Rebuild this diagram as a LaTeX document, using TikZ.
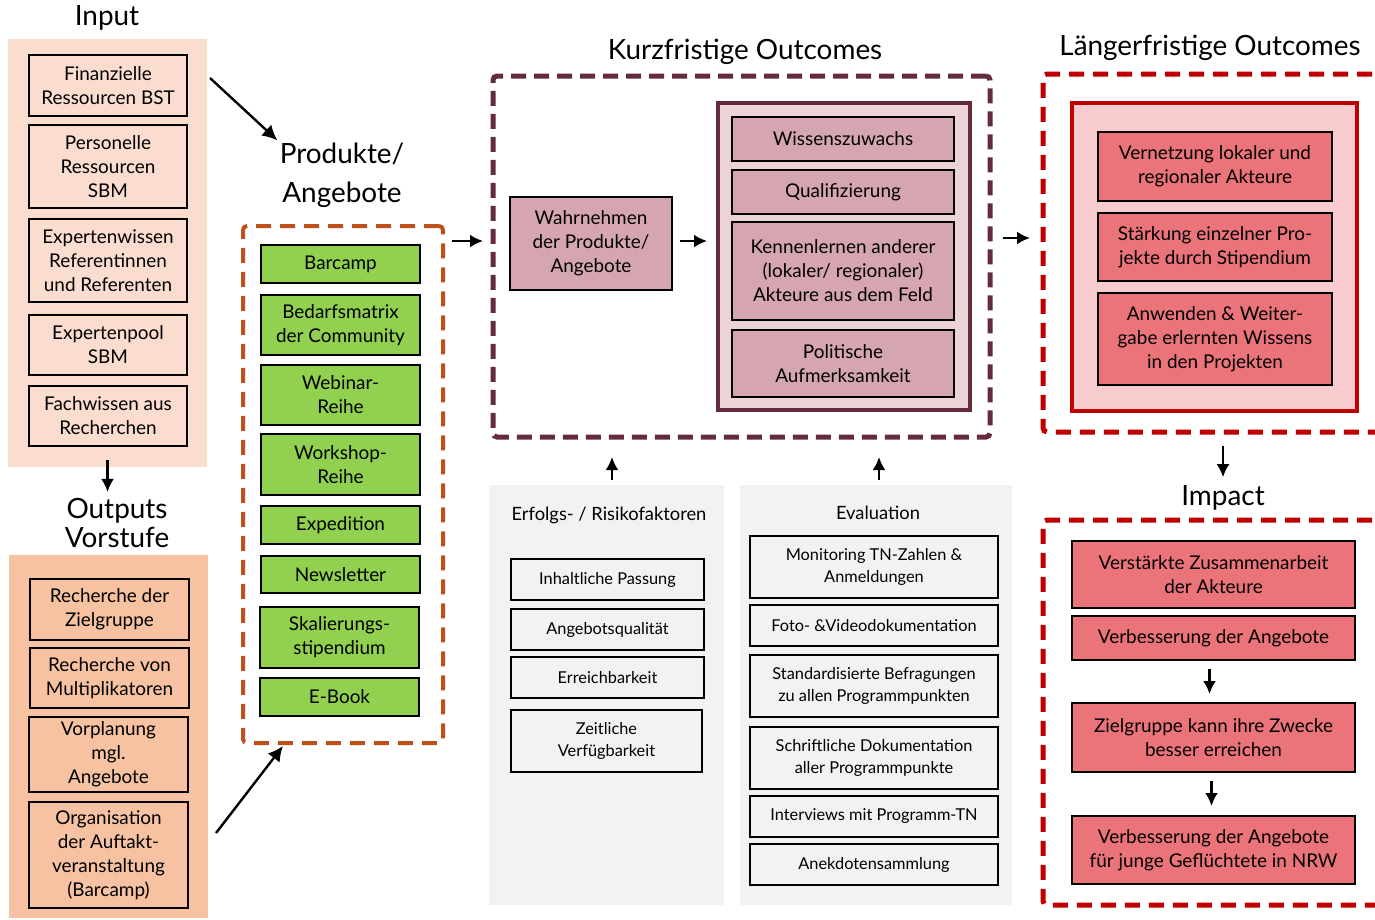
\documentclass[tikz,border=0pt]{standalone}
\usepackage{fontspec}
\setmainfont{Lato}
\usepackage{xcolor}
\usetikzlibrary{arrows.meta, positioning, calc}

\definecolor{inputbg}{HTML}{FADDCF}
\definecolor{outputbg}{HTML}{F6C2A2}
\definecolor{prodline}{HTML}{C0501A}
\definecolor{prodgreen}{HTML}{92D050}
\definecolor{kurzline}{HTML}{632B3C}
\definecolor{kurzfill}{HTML}{D5A6AF}
\definecolor{kurzlight}{HTML}{EBD3D8}
\definecolor{langline}{HTML}{C00000}
\definecolor{langlight}{HTML}{F8CBCE}
\definecolor{langfill}{HTML}{EB737A}
\definecolor{panelgray}{HTML}{F2F2F2}

\begin{document}
\begin{tikzpicture}[
  x=0.5bp, y=-0.5bp,
  box/.style={
    rectangle,
    draw,
    line width=1bp,
    align=center,
    inner sep=2bp,
    font=\fontsize{9.5}{12}\selectfont
  },
  smallbox/.style={
    box,
    line width=0.9bp,
    font=\fontsize{8.2}{11}\selectfont
  },
  title/.style={
    align=center,
    inner sep=1bp,
    font=\fontsize{14}{19.5}\selectfont
  },
  panel/.style={
    rectangle,
    inner sep=0pt
  },
  dashbox/.style={
    rectangle,
    rounded corners=2bp,
    line width=2.5bp,
    dash pattern=on 7.5bp off 4bp,
    inner sep=0pt
  },
  arrow/.style={
    -{Latex[length=6.5bp, width=6.5bp]},
    line width=1.2bp
  },
  bigarrow/.style={
    -{Latex[length=7.5bp, width=7.5bp]},
    line width=1.2bp
  }
]
\useasboundingbox (0,0) rectangle (1375,919);
\clip (0,0) rectangle (1375,919);

% =========================================================
% Input and outputs (left column)
% =========================================================
\node[title] (intitle) at (107,18) {Input};
\node[panel, fill=inputbg, minimum width=99.5bp, minimum height=214bp] (inbg) at (107.5,253) {};

\node[box, minimum width=79bp, minimum height=30.5bp] (in1) at (108,85.5) {Finanzielle\\Ressourcen BST};
\node[box, minimum width=79bp, minimum height=41.5bp] (in2) at (108,166.5) {Personelle\\Ressourcen\\SBM};
\node[box, minimum width=79bp, minimum height=41.5bp] (in3) at (108,260.5) {Expertenwissen\\Referentinnen\\und Referenten};
\node[box, minimum width=79bp, minimum height=30bp] (in4) at (108,345) {Expertenpool\\SBM};
\node[box, minimum width=79bp, minimum height=30bp] (in5) at (108,416) {Fachwissen aus\\Recherchen};

\node[title, font=\fontsize{14}{14.5}\selectfont] (outtitle) at (117,523) {Outputs\\Vorstufe};
\node[panel, fill=outputbg, minimum width=99.5bp, minimum height=181.5bp] (outbg) at (108.5,736.5) {};

\node[box, minimum width=79.5bp, minimum height=30.5bp] (out1) at (109.5,609.5) {Recherche der\\Zielgruppe};
\node[box, minimum width=79.5bp, minimum height=30bp] (out2) at (109.5,678) {Recherche von\\Multiplikatoren};
\node[box, minimum width=79.5bp, minimum height=37.5bp] (out3) at (108.5,754.5) {Vorplanung\\mgl.\\Angebote};
\node[box, minimum width=79.5bp, minimum height=53bp] (out4) at (108.5,855) {Organisation\\der Auftakt-\\veranstaltung\\(Barcamp)};

\draw[arrow, shorten <=-3.5bp, shorten >=2bp] (inbg.south) -- (inbg.south |- outtitle.north);

% =========================================================
% Produkte / Angebote
% =========================================================
\node[title] (prodtitle) at (342,175) {Produkte/\\Angebote};
\node[dashbox, draw=prodline, line width=2bp, dash pattern=on 7.5bp off 4.5bp, minimum width=100bp, minimum height=258.5bp] (prodbox) at (343,484.5) {};

\node[box, fill=prodgreen, minimum width=79.5bp, minimum height=19bp] (barcamp) at (340.5,264) {Barcamp};
\node[box, fill=prodgreen, minimum width=79.5bp, minimum height=30bp] (matrix) at (340.5,325) {Bedarfsmatrix\\der Community};
\node[box, fill=prodgreen, minimum width=79.5bp, minimum height=30bp] (webinar) at (340.5,395) {Webinar-\\Reihe};
\node[box, fill=prodgreen, minimum width=79.5bp, minimum height=30.5bp] (workshop) at (340.5,464.5) {Workshop-\\Reihe};
\node[box, fill=prodgreen, minimum width=79.5bp, minimum height=19bp] (expedition) at (340.5,525) {Expedition};
\node[box, fill=prodgreen, minimum width=79.5bp, minimum height=18.5bp] (newsletter) at (340.5,574.5) {Newsletter};
\node[box, fill=prodgreen, minimum width=79.5bp, minimum height=30.5bp] (stipendium) at (339.5,637.5) {Skalierungs-\\stipendium};
\node[box, fill=prodgreen, minimum width=79.5bp, minimum height=19bp] (ebook) at (339.5,697) {E-Book};

\coordinate (inarr) at (210,78);
\coordinate (outarr) at (216,833);
\coordinate (prodin) at (283,746);
\draw[bigarrow] (inarr) -- (prodtitle.north west);
\draw[bigarrow] (outarr) -- (prodin);

% =========================================================
% Kurzfristige Outcomes
% =========================================================
\node[title] (kurztitle) at (745,52) {Kurzfristige Outcomes};
\node[dashbox, draw=kurzline, minimum width=248.5bp, minimum height=180.5bp] (kurzbox) at (741.5,256.5) {};

\node[box, fill=kurzfill, minimum width=81bp, minimum height=46.5bp] (wahr) at (591,243.5) {Wahrnehmen\\der Produkte/\\Angebote};
\node[panel, draw=kurzline, line width=2bp, fill=kurzlight, minimum width=126bp, minimum height=153.5bp] (kurzin) at (844,256.5) {};

\node[box, fill=kurzfill, minimum width=111bp, minimum height=22bp] (wissen) at (843,139) {Wissenszuwachs};
\node[box, fill=kurzfill, minimum width=111bp, minimum height=22bp] (quali) at (843,192) {Qualifizierung};
\node[box, fill=kurzfill, minimum width=111bp, minimum height=49bp] (kennen) at (843,271) {Kennenlernen anderer\\(lokaler/ regionaler)\\Akteure aus dem Feld};
\node[box, fill=kurzfill, minimum width=111bp, minimum height=33.5bp] (politik) at (843,363.5) {Politische\\Aufmerksamkeit};

\coordinate (kurzarr) at (483,241);
\draw[arrow, shorten <=3.5bp] (prodbox.east |- kurzarr) -- (kurzarr);
\draw[arrow, shorten <=3.5bp, shorten >=4.5bp] (wahr.east |- kurzarr) -- (kurzin.west |- kurzarr);

% =========================================================
% Erfolgs- / Risikofaktoren and Evaluation
% =========================================================
\node[panel, fill=panelgray, minimum width=117.5bp, minimum height=210bp] (erfpanel) at (606.5,695) {};
\node[panel, fill=panelgray, minimum width=136bp, minimum height=210bp] (evalpanel) at (876,695) {};

\node[title, font=\fontsize{9.2}{11}\selectfont] (erftitle) at (609,515) {Erfolgs- / Risikofaktoren};
\node[smallbox, minimum width=96.5bp, minimum height=20.5bp] (passung) at (607.5,579.5) {Inhaltliche Passung};
\node[smallbox, minimum width=96.5bp, minimum height=20.5bp] (qualitaet) at (607.5,629.5) {Angebotsqualität};
\node[smallbox, minimum width=96.5bp, minimum height=20.5bp] (erreich) at (607.5,677.5) {Erreichbarkeit};
\node[smallbox, minimum width=95.5bp, minimum height=31bp] (zeit) at (606.5,741) {Zeitliche\\Verfügbarkeit};

\node[title, font=\fontsize{9.2}{11}\selectfont] (evaltitle) at (878,513) {Evaluation};
\node[smallbox, minimum width=124bp, minimum height=31bp] (monitor) at (874,567) {Monitoring TN-Zahlen \&\\Anmeldungen};
\node[smallbox, minimum width=124bp, minimum height=20.5bp] (foto) at (874,625.5) {Foto- \&Videodokumentation};
\node[smallbox, minimum width=124bp, minimum height=31bp] (befragung) at (874,686) {Standardisierte Befragungen\\zu allen Programmpunkten};
\node[smallbox, minimum width=124bp, minimum height=31bp] (doku) at (874,758) {Schriftliche Dokumentation\\aller Programmpunkte};
\node[smallbox, minimum width=124bp, minimum height=20.5bp] (interview) at (874,816.5) {Interviews mit Programm-TN};
\node[smallbox, minimum width=124bp, minimum height=20.5bp] (anekdote) at (874,864.5) {Anekdotensammlung};

\coordinate (erfup) at (612,457);
\coordinate (evalup) at (879,457);
\draw[arrow, shorten <=2.5bp] (erfpanel.north -| erfup) -- (erfup);
\draw[arrow, shorten <=2.5bp] (evalpanel.north -| evalup) -- (evalup);

% =========================================================
% Laengerfristige Outcomes
% =========================================================
\node[title] (langtitle) at (1210,48) {Längerfristige Outcomes};
\node[dashbox, draw=langline, dash pattern=on 7.5bp off 4.5bp, minimum width=178.5bp, minimum height=179bp] (langbox) at (1221.5,253) {};
\node[panel, draw=langline, line width=2bp, fill=langlight, minimum width=142.5bp, minimum height=154bp] (langin) at (1214.5,257) {};

\node[box, fill=langfill, minimum width=117bp, minimum height=34.5bp] (vernetzung) at (1215,166.5) {Vernetzung lokaler und\\regionaler Akteure};
\node[box, fill=langfill, minimum width=117bp, minimum height=34bp] (staerkung) at (1215,247) {Stärkung einzelner Pro-\\jekte durch Stipendium};
\node[box, fill=langfill, minimum width=117bp, minimum height=46bp] (anwenden) at (1215,339) {Anwenden \& Weiter-\\gabe erlernten Wissens\\in den Projekten};

\coordinate (langarr) at (1030,238);
\draw[arrow, shorten <=5bp] (kurzbox.east |- langarr) -- (langarr);

% =========================================================
% Impact
% =========================================================
\node[title] (imptitle) at (1223,498) {Impact};
\node[dashbox, draw=langline, dash pattern=on 7.5bp off 4.5bp, minimum width=178.5bp, minimum height=192.5bp] (impbox) at (1221.5,712.5) {};

\node[box, fill=langfill, minimum width=141.5bp, minimum height=33.5bp] (imp1) at (1213.5,574.5) {Verstärkte Zusammenarbeit\\der Akteure};
\node[box, fill=langfill, minimum width=141.5bp, minimum height=22bp] (imp2) at (1213.5,638) {Verbesserung der Angebote};
\node[box, fill=langfill, minimum width=141.5bp, minimum height=34.5bp] (imp3) at (1213.5,737.5) {Zielgruppe kann ihre Zwecke\\besser erreichen};
\node[box, fill=langfill, minimum width=141.5bp, minimum height=34bp] (imp4) at (1213.5,850) {Verbesserung der Angebote\\für junge Geflüchtete in NRW};

\draw[arrow, shorten <=5.5bp, shorten >=3bp] (langbox.south -| imptitle.north) -- (imptitle.north);
\draw[arrow, shorten <=4bp, shorten >=4bp] ([xshift=-2bp]imp2.south) -- ([xshift=-2bp]imp3.north);
\draw[arrow, shorten <=4bp, shorten >=4.5bp] ([xshift=-1bp]imp3.south) -- ([xshift=-1bp]imp4.north);

\end{tikzpicture}
\end{document}
